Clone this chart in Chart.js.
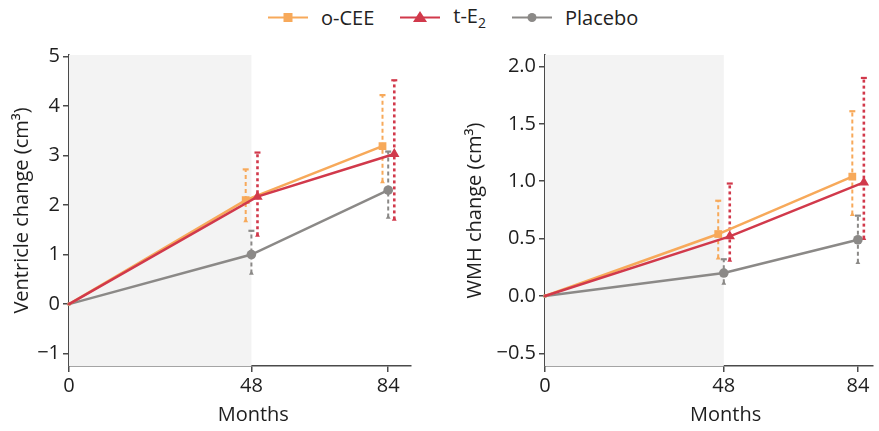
<!DOCTYPE html>
<html>
<head>
<meta charset="utf-8">
<script src="https://cdn.jsdelivr.net/npm/chart.js@4/dist/chart.umd.min.js"></script>
<style>
  body { margin: 0; background: #fff; font-family: "Open Sans", sans-serif; }
  #wrap { position: relative; width: 879px; height: 431px; }
  #legend { position: absolute; top: 2px; left: 268px; display: flex; align-items: center; font-size: 20px; color: #222; }
  #legend .item { display: flex; align-items: center; margin-right: 26px; }
  #legend svg { margin-right: 13px; }
  #leftChart { position: absolute; left: 0; top: 40px; }
  #rightChart { position: absolute; left: 440px; top: 40px; }
</style>
</head>
<body>
<div id="wrap">
  <div id="legend"></div>
  <canvas id="leftChart" width="440" height="391"></canvas>
  <canvas id="rightChart" width="439" height="391"></canvas>
</div>
<script>
// data
const months = [0, 48, 84];
const xTicks = [0, 48, 84];

// ventricle change (cm3)
const ventOcee = [0, 2.10, 3.19];
const ventOceeLo = [null, 1.68, 2.47];
const ventOceeHi = [null, 2.72, 4.22];
const ventTe2 = [0, 2.17, 3.03];
const ventTe2Lo = [null, 1.39, 1.71];
const ventTe2Hi = [null, 3.06, 4.52];
const ventPlacebo = [0, 1.00, 2.30];
const ventPlaceboLo = [null, 0.62, 1.75];
const ventPlaceboHi = [null, 1.48, 3.08];
const ventTicks = [-1, 0, 1, 2, 3, 4, 5];

// WMH change (cm3)
const wmhOcee = [0, 0.54, 1.04];
const wmhOceeLo = [null, 0.33, 0.71];
const wmhOceeHi = [null, 0.83, 1.61];
const wmhTe2 = [0, 0.52, 0.99];
const wmhTe2Lo = [null, 0.31, 0.50];
const wmhTe2Hi = [null, 0.98, 1.90];
const wmhPlacebo = [0, 0.20, 0.49];
const wmhPlaceboLo = [null, 0.11, 0.29];
const wmhPlaceboHi = [null, 0.32, 0.70];
const wmhTicks = [-0.5, 0, 0.5, 1.0, 1.5, 2.0];

const ORANGE = "#f7a95a";
const RED = "#d1394b";
const GREY = "#8b8987";
const TEXT = "#1e1e1e";
const AXIS = "#4a4a4a";
const FONT = "'Open Sans', sans-serif";
const FONT_SIZE = 20;

// series styling; small dodge so the error bars don't overlap
const series = [
  { key: "te2", label: "t-E\u2082", color: RED, style: "triangle", radius: 6, dodge: 1.6, dash: [3, 3], width: 2.6 },
  { key: "ocee", label: "o-CEE", color: ORANGE, style: "rect", radius: 5.5, dodge: -1.5, dash: [4, 3], width: 2 },
  { key: "placebo", label: "Placebo", color: GREY, style: "circle", radius: 4.8, dodge: 0, dash: [4, 3], width: 2 }
];

// legend (shared, html)
const legendEl = document.getElementById("legend");
[
  { label: "o-CEE", color: ORANGE, mark: '<rect x="15.5" y="4" width="9" height="9" fill="' + ORANGE + '"/>' },
  { label: "t-E<sub style='font-size:14px'>2</sub>", color: RED, mark: '<polygon points="20,2 27,13 13,13" fill="' + RED + '"/>' },
  { label: "Placebo", color: GREY, mark: '<circle cx="20" cy="8.5" r="4.5" fill="' + GREY + '"/>' }
].forEach(function (it) {
  const d = document.createElement("div");
  d.className = "item";
  d.innerHTML = '<svg width="40" height="17"><line x1="0" y1="8.5" x2="40" y2="8.5" stroke="' + it.color + '" stroke-width="2.2"/>' + it.mark + "</svg><span>" + it.label + "</span>";
  legendEl.appendChild(d);
});

// grey shading for the first 48 months, plus the "Months" title
const shadePlugin = {
  id: "shade",
  beforeDatasetsDraw(chart) {
    const { ctx, chartArea, scales } = chart;
    const x0 = scales.x.getPixelForValue(0);
    const x1 = scales.x.getPixelForValue(48);
    ctx.save();
    ctx.fillStyle = "#f3f3f3";
    ctx.fillRect(x0, chartArea.top, x1 - x0, chartArea.bottom - chartArea.top);
    ctx.restore();
  },
  afterDraw(chart) {
    const { ctx, scales } = chart;
    ctx.save();
    ctx.fillStyle = TEXT;
    ctx.font = FONT_SIZE + "px " + FONT;
    ctx.textAlign = "center";
    ctx.textBaseline = "middle";
    ctx.fillText("Months", scales.x.getPixelForValue(48.5), 375);
    ctx.restore();
  }
};

function buildDatasets(vals) {
  const main = [];
  const bars = [];
  series.forEach(function (s) {
    const v = vals[s.key];
    main.push({
      label: s.label,
      data: months.map((m, i) => ({ x: m + (i > 0 ? s.dodge : 0), y: v.mean[i] })),
      borderColor: s.color,
      backgroundColor: s.color,
      borderWidth: 2.5,
      pointStyle: s.style,
      pointRadius: months.map((m, i) => (i === 0 ? 2 : s.radius)),
      pointBorderWidth: 0,
      pointBackgroundColor: s.color,
      clip: false
    });
    months.forEach(function (m, i) {
      if (v.lo[i] == null) return;
      const x = m + s.dodge;
      bars.push({
        label: s.label + " ci",
        data: [{ x: x, y: v.lo[i] }, { x: x, y: v.hi[i] }],
        borderColor: s.color,
        backgroundColor: s.color,
        borderWidth: s.width,
        borderDash: s.dash,
        pointStyle: ["triangle", "line"],
        pointRadius: [2.8, 3],
        pointBorderWidth: [0, 2.2],
        pointBorderColor: s.color,
        pointBackgroundColor: s.color,
        clip: false
      });
    });
  });
  return main.concat(bars);
}

function makeChart(id, vals, opts) {
  return new Chart(document.getElementById(id), {
    type: "line",
    data: { datasets: buildDatasets(vals) },
    options: {
      responsive: false,
      animation: false,
      layout: { padding: { top: 15, right: opts.padRight, left: 0, bottom: 0 } },
      plugins: { legend: { display: false }, tooltip: { enabled: false } },
      scales: {
        x: {
          type: "linear",
          min: 0,
          max: opts.xMax,
          afterBuildTicks: (sc) => { sc.ticks = xTicks.map((v) => ({ value: v })); },
          afterFit: (sc) => { sc.height = 65; },
          ticks: { color: TEXT, font: { family: FONT, size: FONT_SIZE }, padding: 2, maxRotation: 0 },
          grid: { drawOnChartArea: false, drawTicks: true, tickLength: 6, color: AXIS, lineWidth: 1.5 },
          border: { color: AXIS, width: 1.5 },
          title: { display: false }
        },
        y: {
          min: opts.yMin,
          max: opts.yMax,
          afterBuildTicks: (sc) => { sc.ticks = opts.yTicks.map((v) => ({ value: v })); },
          afterFit: (sc) => { sc.width = opts.yWidth; },
          ticks: {
            color: TEXT,
            font: { family: FONT, size: FONT_SIZE },
            padding: 3,
            callback: (v) => {
              const s = opts.decimals ? Math.abs(v).toFixed(opts.decimals) : String(Math.abs(v));
              return v < 0 ? "\u2212" + s : s;
            }
          },
          grid: { drawOnChartArea: false, drawTicks: true, tickLength: 6, color: AXIS, lineWidth: 1.5 },
          border: { color: AXIS, width: 1.5 },
          title: { display: true, text: opts.yTitle, color: TEXT, font: { family: FONT, size: FONT_SIZE }, padding: { top: opts.titlePad, bottom: 0 } }
        }
      }
    },
    plugins: [shadePlugin]
  });
}

makeChart("leftChart", {
  ocee: { mean: ventOcee, lo: ventOceeLo, hi: ventOceeHi },
  te2: { mean: ventTe2, lo: ventTe2Lo, hi: ventTe2Hi },
  placebo: { mean: ventPlacebo, lo: ventPlaceboLo, hi: ventPlaceboHi }
}, { yMin: -1.25, yMax: 5.03, yTicks: ventTicks, decimals: 0, yTitle: "Ventricle change (cm\u00b3)", yWidth: 69, titlePad: 10, xMax: 90, padRight: 29 });

makeChart("rightChart", {
  ocee: { mean: wmhOcee, lo: wmhOceeLo, hi: wmhOceeHi },
  te2: { mean: wmhTe2, lo: wmhTe2Lo, hi: wmhTe2Hi },
  placebo: { mean: wmhPlacebo, lo: wmhPlaceboLo, hi: wmhPlaceboHi }
}, { yMin: -0.61, yMax: 2.1, yTicks: wmhTicks, decimals: 1, yTitle: "WMH change (cm\u00b3)", yWidth: 105, titlePad: 23, xMax: 88, padRight: 0 });
</script>
</body>
</html>
